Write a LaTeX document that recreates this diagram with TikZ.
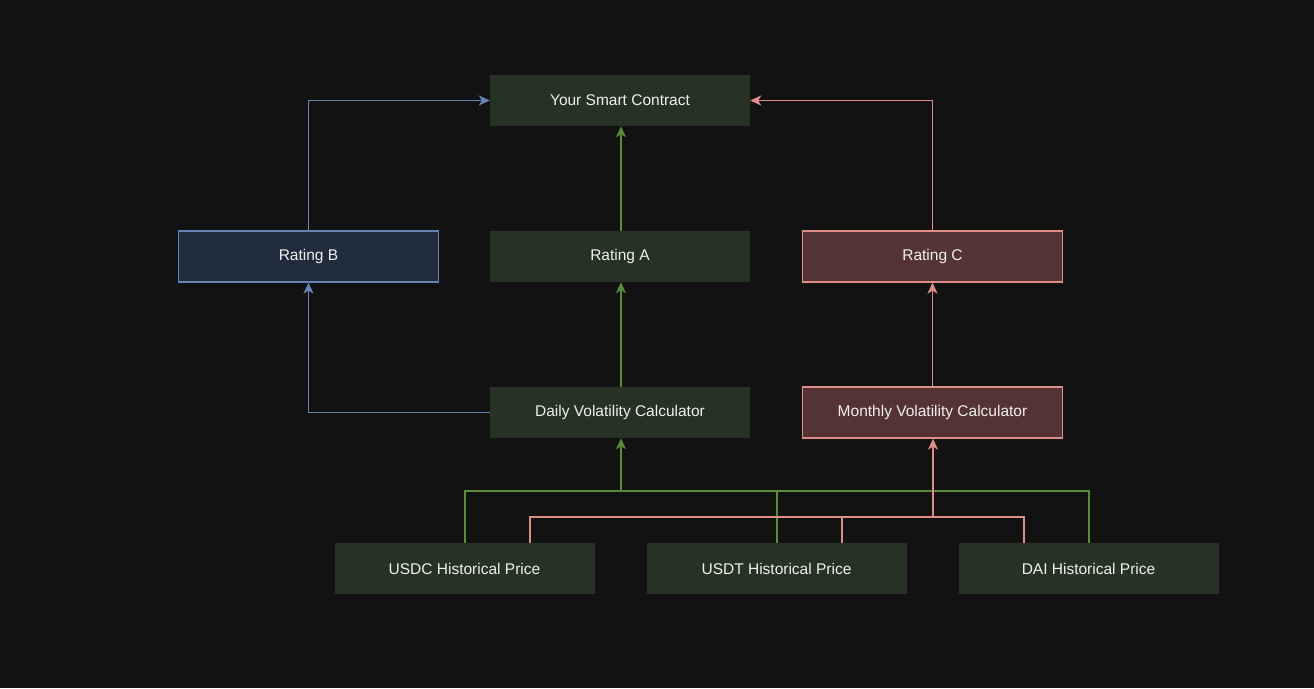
\documentclass[tikz,border=0pt]{standalone}
\usepackage{fontspec}
\setmainfont{Liberation Sans}
\usetikzlibrary{arrows.meta}
\definecolor{bg}{HTML}{121212}
\definecolor{gfill}{HTML}{263223}
\definecolor{gline}{HTML}{5A8A3A}
\definecolor{bline}{HTML}{6584B5}
\definecolor{bfill}{HTML}{202B3D}
\definecolor{rfill}{HTML}{553333}
\definecolor{rline}{HTML}{DF8D88}
\definecolor{txt}{HTML}{F0F0F0}
\tikzset{
  box/.style={minimum width=260pt, minimum height=51pt, inner sep=0pt, text=txt, font=\fontsize{15.5}{17}\selectfont},
  gbox/.style={box, fill=gfill},
  bbox/.style={box, fill=bfill, draw=bline, line width=1.3pt},
  rbox/.style={box, fill=rfill, draw=rline, line width=1.3pt},
  conn/.style={line width=1.4pt, -{Stealth[length=11pt,width=10pt,inset=3pt]}},
  gconn/.style={conn, draw=gline},
  bconn/.style={conn, draw=bline},
  rconn/.style={conn, draw=rline},
  gseg/.style={line width=1.4pt, draw=gline},
  rseg/.style={line width=1.4pt, draw=rline},
}
\begin{document}
\begin{tikzpicture}[x=1pt,y=-1pt]
\fill[bg] (0,0) rectangle (1314,688);
\useasboundingbox (0,0) rectangle (1314,688);
\node[gbox] (sc) at (620,100.5) {Your Smart Contract};
\node[bbox] (rb) at (308.5,256.5) {Rating B};
\node[gbox] (ra) at (620,256.5) {Rating A};
\node[rbox] (rc) at (932.5,256.5) {Rating C};
\node[gbox] (dv) at (620,412.5) {Daily Volatility Calculator};
\node[rbox] (mv) at (932.5,412.5) {Monthly Volatility Calculator};
\node[gbox] (usdc) at (464.5,568.5) {USDC Historical Price};
\node[gbox] (usdt) at (776.5,568.5) {USDT Historical Price};
\node[gbox] (dai) at (1088.5,568.5) {DAI Historical Price};
\coordinate (gj) at (621,491);
\coordinate (rj) at (933,517);
% green bus
\draw[gseg] ([xshift=0.5pt]usdc.north) |- (gj);
\draw[gseg] ([xshift=0.5pt]usdt.north) |- (gj);
\draw[gseg] ([xshift=0.5pt]dai.north) |- (gj);
\draw[gconn] (gj) -- (gj |- dv.south);
% red bus
\draw[rseg] ([xshift=65.5pt]usdc.north) |- (rj);
\draw[rseg] ([xshift=65.5pt]usdt.north) |- (rj);
\draw[rseg] ([xshift=-64.5pt]dai.north) |- (rj);
\draw[rconn] (rj) -- (rj |- mv.south);
% upper
\draw[gconn] ([xshift=1pt]dv.north) -- ([xshift=1pt]ra.south);
\draw[rconn] (mv.north) -- (rc.south);
\draw[bconn] (dv.west) -| (rb.south);
\draw[gconn] ([xshift=1pt]ra.north) -- ([xshift=1pt]sc.south);
\draw[bconn] (rb.north) |- (sc.west);
\draw[rconn] (rc.north) |- (sc.east);
\end{tikzpicture}
\end{document}
